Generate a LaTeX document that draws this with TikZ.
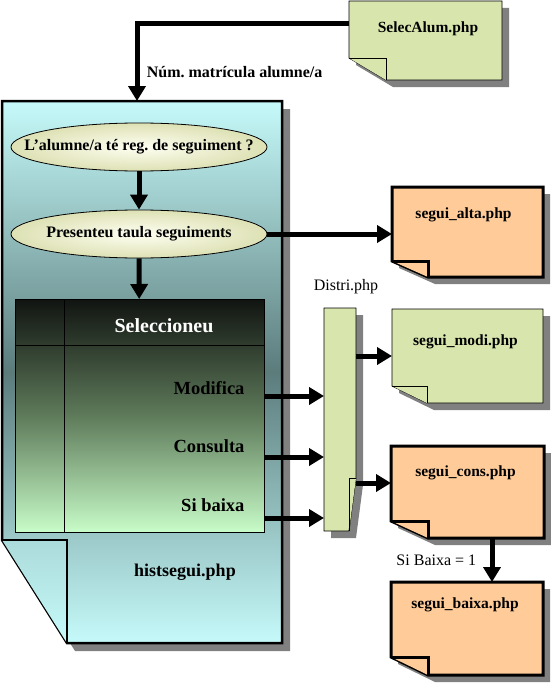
\documentclass[tikz,border=0pt]{standalone}
\usepackage{fontspec}
\setmainfont{Liberation Serif}
\usepackage{tikz}
\usepackage{xcolor}
\usetikzlibrary{arrows.meta,calc,positioning,shapes.geometric}
\definecolor{notegreen}{HTML}{D8E6AE}
\definecolor{noteorange}{HTML}{FFCC99}
\definecolor{shadowgray}{HTML}{808080}
\definecolor{pagecyan}{HTML}{C6FAFA}
\definecolor{pagedark}{HTML}{5C7C7C}
\definecolor{ovalcream}{HTML}{FFFFF2}
\definecolor{ovaledge}{HTML}{DDE1B4}
\definecolor{tabletop}{HTML}{111411}
\definecolor{tablemid}{HTML}{5E7A5A}
\definecolor{tablebot}{HTML}{C8FCC8}
\tikzset{%
  arrow/.style={line width=5pt,-{Triangle[length=15pt,width=17pt]}},
  box/.style={rectangle,inner sep=0pt,outer sep=0pt},
  oval/.style={ellipse,draw,line width=0.8pt,inner sep=0pt,minimum width=256pt,minimum height=48pt,
    inner color=ovalcream,outer color=ovaledge,font=\fontsize{16}{18}\bfseries\selectfont},
  notetext/.style={font=\fontsize{15.5}{18}\bfseries\selectfont},
  headtext/.style={text=white,font=\fontsize{20}{24}\bfseries\selectfont},
  itemtext/.style={anchor=east,font=\fontsize{18.5}{22}\bfseries\selectfont},
  pagetext/.style={font=\fontsize{18}{22}\bfseries\selectfont},
  arrowtext/.style={font=\fontsize{16}{18}\bfseries\selectfont},
  plain/.style={font=\fontsize{16}{18}\selectfont},
  thinnote/.style={draw,line width=0.8pt,fill=notegreen},
  thicknote/.style={draw,line width=3pt,fill=noteorange},
  pageframe/.style={draw,line width=2.5pt,top color=pagecyan,bottom color=pagecyan,middle color=pagedark},
  pageflap/.style={draw,line width=2.5pt,top color=pagecyan!75!pagedark,bottom color=pagecyan},
}
% note with folded bottom-left corner: node, look, flap look, fold width, fold height, shadow
\newcommand{\foldnote}[6]{%
  \fill[shadowgray] ([shift={(#6,-#6)}]#1.north west)
    -- ([shift={(#6,-#6)}]#1.north east)
    -- ([shift={(#6,-#6)}]#1.south east)
    -- ([shift={(#4+#6,-#6)}]#1.south west)
    -- ([shift={(#6,#5-#6)}]#1.south west) -- cycle;
  \draw[#2] (#1.north west) -- (#1.north east) -- (#1.south east)
    -- ([xshift=#4]#1.south west) -- ([yshift=#5]#1.south west) -- cycle;
  \draw[#3] ([yshift=#5]#1.south west) -- ([shift={(#4,#5)}]#1.south west)
    -- ([xshift=#4]#1.south west);
}

\begin{document}
\begin{tikzpicture}[x=1pt,y=-1pt]
  \fill[white] (0,0) rectangle (550,685);
  \useasboundingbox (0,0) rectangle (550,685);

  % frames
  \node[box,minimum width=280pt,minimum height=542pt] (page) at (142,372) {};
  \node[box,minimum width=153pt,minimum height=79pt] (selec) at (425.5,40.5) {};
  \node[box,minimum width=151pt,minimum height=90pt] (alta) at (467.5,232) {};
  \node[box,minimum width=151pt,minimum height=94pt] (modi) at (467.5,356) {};
  \node[box,minimum width=153pt,minimum height=92pt] (cons) at (467.5,492) {};
  \node[box,minimum width=152pt,minimum height=93pt] (baixa) at (467,628.5) {};
  \node[box,minimum width=32pt,minimum height=223pt] (distri) at (340,419.5) {};
  \coordinate (pagein) at (page.north -| 137,0);

  \foldnote{page}{pageframe}{pageflap}{65pt}{103pt}{8pt}
  \foldnote{selec}{thinnote}{thinnote}{37pt}{22pt}{7pt}
  \foldnote{alta}{thicknote}{thicknote}{36pt}{16pt}{7pt}
  \foldnote{modi}{thinnote}{thinnote}{35pt}{17pt}{7pt}
  \foldnote{cons}{thicknote}{thicknote}{37pt}{17pt}{7pt}
  \foldnote{baixa}{thicknote}{thicknote}{37pt}{18pt}{7pt}

  \fill[shadowgray] ([shift={(7pt,-7pt)}]distri.north west) -- ([shift={(7pt,-7pt)}]distri.north east)
    -- ([shift={(7pt,46pt)}]distri.south east) -- ([shift={(0pt,-7pt)}]distri.south east)
    -- ([shift={(7pt,-7pt)}]distri.south west) -- cycle;
  \draw[thinnote] (distri.north west) -- (distri.north east) -- ([yshift=53pt]distri.south east)
    -- ([xshift=-7pt]distri.south east) -- (distri.south west) -- cycle;
  \draw[thinnote] ([yshift=53pt]distri.south east) -- ([shift={(-7pt,53pt)}]distri.south east)
    -- ([xshift=-7pt]distri.south east);

  % histsegui.php
  \node[oval] (quest) at (139,147) {\makebox[0pt]{L'alumne/a té reg.\ de seguiment ?}};
  \node[oval] (present) at (139,234) {\makebox[0pt]{Presenteu taula seguiments}};
  \node[box,draw,line width=0.8pt,minimum width=249pt,minimum height=233pt,
    top color=tabletop,bottom color=tablebot,middle color=tablemid] (taula) at (139.5,415.5) {};
  \draw[line width=0.8pt] ([yshift=-46pt]taula.north west) -- ([yshift=-46pt]taula.north east);
  \draw[line width=0.8pt] ([xshift=49pt]taula.north west) -- ([xshift=49pt]taula.south west);
  \node[headtext] (tria) at (164,326) {Seleccioneu};
  \node[itemtext] (modifica) at (248,388) {Modifica};
  \node[itemtext] (consulta) at (248,446) {Consulta};
  \node[itemtext] (sibaixa) at (248,505) {Si baixa};
  \node[pagetext] (histsegui) at (185,572) {histsegui.php};

  \node[notetext] (selecname) at ([shift={(2.5pt,-28pt)}]selec.north) {SelecAlum.php};
  \node[notetext] (altaname) at ([shift={(-4pt,-28pt)}]alta.north) {segui\_alta.php};
  \node[notetext] (modiname) at ([shift={(-2pt,-33pt)}]modi.north) {segui\_modi.php};
  \node[notetext] (consname) at ([shift={(-2pt,-27pt)}]cons.north) {segui\_cons.php};
  \node[notetext] (baixaname) at ([shift={(-2pt,-23pt)}]baixa.north) {segui\_baixa.php};
  \node[plain] (distriname) at (346,287) {Distri.php};

  \draw[arrow] (selec.west |- 0,24) -| node[pos=0.81,right=4pt,arrowtext] {Núm.\ matrícula alumne/a} (pagein);
  \draw[arrow] (quest) -- (present);
  \draw[arrow] (present) -- (taula);
  \draw[arrow] (present.east) -- (alta.west |- present.east);
  \draw[arrow] (taula.east |- 0,396) -- (distri.west |- 0,396);
  \draw[arrow] (taula.east |- 0,457) -- (distri.west |- 0,457);
  \draw[arrow] (taula.east |- 0,518) -- (distri.west |- 0,518);
  \draw[arrow] (distri.east |- modi) -- (modi.west);
  \draw[arrow] (distri.east |- 0,483) -- (cons.west |- 0,483);
  \draw[arrow] (cons.south -| 492,0) -- node[left=10pt,plain] {Si Baixa = 1} (baixa.north -| 492,0);
\end{tikzpicture}
\end{document}
